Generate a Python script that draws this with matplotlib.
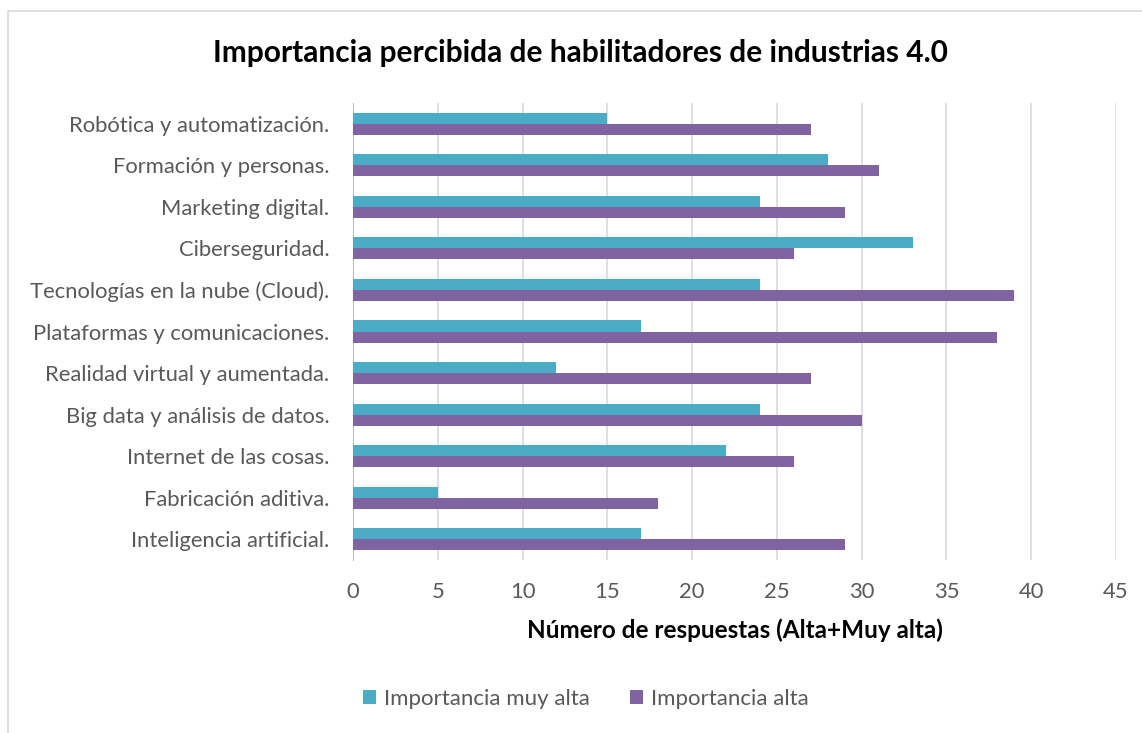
import matplotlib.pyplot as plt
import matplotlib.patches as mpatches
import numpy as np

# ---- DATA ----
categorias = [
    "Inteligencia artificial.",
    "Fabricación aditiva.",
    "Internet de las cosas.",
    "Big data y análisis de datos.",
    "Realidad virtual y aumentada.",
    "Plataformas y comunicaciones.",
    "Tecnologías en la nube (Cloud).",
    "Ciberseguridad.",
    "Marketing digital.",
    "Formación y personas.",
    "Robótica y automatización.",
]
muy_alta = [17, 5, 22, 24, 12, 17, 24, 33, 24, 28, 15]
alta = [29, 18, 26, 30, 27, 38, 39, 26, 29, 31, 27]
xticks = [0, 5, 10, 15, 20, 25, 30, 35, 40, 45]

CYAN = "#4BACC6"
PURPLE = "#8064A2"
GRAY_TXT = "#595959"

plt.rcParams['font.family'] = ['Lato', 'DejaVu Sans']

W, H = 1142, 733
fig = plt.figure(figsize=(W / 100, H / 100), dpi=100)

# chart border
fig.patches.append(mpatches.Rectangle((8 / W, -0.01), 1.1, 1 - 11 / H + 0.01,
                                      transform=fig.transFigure, fill=False,
                                      edgecolor="#D9D9D9", linewidth=1.2))

# plot area in pixels: left 353, right 1116, top 103, bottom 560
ax = fig.add_axes([353 / W, 1 - 560 / H, (1116 - 353) / W, (560 - 103) / H])

y = np.arange(len(categorias))
h = 0.265
ax.barh(y + h / 2, muy_alta, height=h, color=CYAN, label="Importancia muy alta", zorder=3)
ax.barh(y - h / 2, alta, height=h, color=PURPLE, label="Importancia alta", zorder=3)

ax.set_xlim(0, 45)
ax.set_ylim(-0.5, len(categorias) - 0.5)
ax.set_xticks(xticks)
ax.set_yticks(y)
ax.set_yticklabels(categorias)
ax.grid(axis="x", color="#D9D9D9", linewidth=1.2, zorder=0)
for s in ["top", "right", "bottom"]:
    ax.spines[s].set_visible(False)
ax.spines["left"].set_color("#BFBFBF")
ax.tick_params(axis="both", length=0, labelsize=15.8, labelcolor=GRAY_TXT)
ax.tick_params(axis="y", pad=17)
ax.tick_params(axis="x", pad=16)

ax.set_xlabel("Número de respuestas (Alta+Muy alta)", fontsize=17.5, fontweight="bold",
              labelpad=12)

fig.text(580 / W, 1 - 53 / H, "Importancia percibida de habilitadores de industrias 4.0",
         ha="center", va="center", fontsize=21.5, fontweight="bold")

leg = fig.legend(loc="center", bbox_to_anchor=(586 / W, 1 - 699 / H), ncol=2,
                 frameon=False, fontsize=16, handlelength=0.6, handleheight=0.6,
                 handletextpad=0.35, columnspacing=1.8)
for t in leg.get_texts():
    t.set_color(GRAY_TXT)

fig.savefig("out.png", dpi=100)
